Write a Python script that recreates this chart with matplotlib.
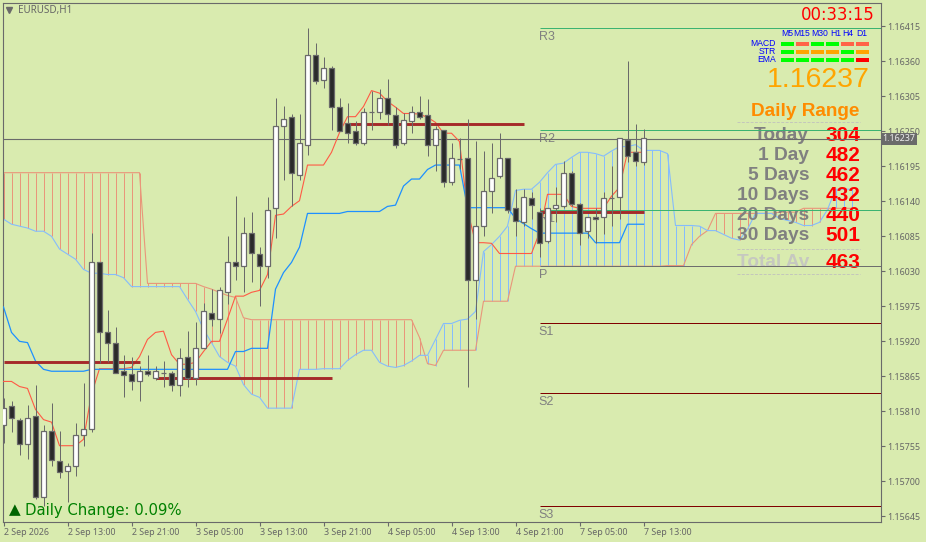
# EURUSD H1 chart with ichimoku, pivots and the daily range panel

import matplotlib
matplotlib.use("Agg")
import matplotlib.pyplot as plt
import numpy as np
from matplotlib.patches import Rectangle

# candles, in points (price * 100000)
opens = [115789, 115818, 115797, 115758, 115802, 115676, 115779, 115732, 115716, 115724, 115773, 115783, 116044, 115934, 115918, 115873, 115868, 115857, 115874, 115862, 115870, 115870, 115851, 115896, 115862, 115910, 115965, 115955, 115997, 116044, 116039, 116090, 116057, 116038, 116129, 116258, 116272, 116182, 116229, 116370, 116330, 116349, 116288, 116263, 116250, 116231, 116280, 116280, 116303, 116275, 116231, 116266, 116281, 116275, 116228, 116252, 116171, 116206, 116208, 116017, 116102, 116156, 116179, 116208, 116129, 116107, 116145, 116124, 116077, 116130, 116132, 116185, 116135, 116093, 116116, 116116, 116145, 116146, 116237, 116217, 116201]
highs = [115831, 115826, 115799, 115820, 115851, 115789, 115823, 115779, 115729, 115791, 115855, 116091, 116044, 115970, 115942, 115899, 115896, 115881, 115899, 115881, 115889, 115873, 115909, 115936, 115950, 115980, 116003, 116005, 116085, 116148, 116116, 116124, 116069, 116146, 116303, 116289, 116277, 116277, 116413, 116388, 116366, 116352, 116302, 116294, 116266, 116286, 116314, 116317, 116332, 116288, 116278, 116289, 116305, 116300, 116258, 116252, 116232, 116239, 116269, 116234, 116219, 116232, 116248, 116208, 116159, 116160, 116154, 116130, 116130, 116162, 116203, 116187, 116138, 116116, 116129, 116154, 116195, 116240, 116360, 116261, 116253]
lows = [115761, 115777, 115741, 115735, 115672, 115661, 115724, 115705, 115667, 115709, 115755, 115777, 115886, 115887, 115871, 115832, 115843, 115826, 115865, 115860, 115849, 115842, 115834, 115849, 115851, 115910, 115944, 115933, 115978, 116017, 115997, 116014, 115976, 116020, 116082, 116173, 116132, 116173, 116212, 116325, 116318, 116252, 116250, 116232, 116229, 116228, 116252, 116270, 116260, 116223, 116228, 116247, 116270, 116211, 116187, 116162, 116166, 116190, 115848, 115955, 116085, 116122, 116176, 116121, 116085, 116102, 116113, 116053, 116075, 116107, 116130, 116132, 116072, 116082, 116075, 116088, 116102, 116113, 116201, 116195, 116197]
closes = [115816, 115799, 115758, 115800, 115676, 115779, 115733, 115714, 115724, 115773, 115783, 116044, 115934, 115918, 115871, 115867, 115857, 115873, 115868, 115874, 115870, 115851, 115894, 115862, 115910, 115967, 115955, 116000, 116045, 116039, 116090, 116059, 116038, 116126, 116258, 116269, 116184, 116231, 116370, 116329, 116349, 116288, 116250, 116247, 116232, 116280, 116280, 116302, 116277, 116229, 116267, 116281, 116273, 116228, 116253, 116171, 116208, 116206, 116017, 116102, 116156, 116177, 116208, 116126, 116109, 116146, 116134, 116075, 116130, 116134, 116184, 116135, 116091, 116116, 116113, 116145, 116145, 116239, 116211, 116203, 116239]

# ichimoku, also in points
tenkan = [115857, 115857, 115849, 115846, 115813, 115797, 115793, 115756, 115756, 115756, 115766, 115837, 115877, 115877, 115877, 115877, 115879, 115896, 115923, 115934, 115936, 115899, 115884, 115884, 115887, 115904, 115920, 115920, 115955, 115991, 115991, 115997, 116000, 116025, 116118, 116120, 116132, 116141, 116197, 116197, 116197, 116217, 116248, 116273, 116273, 116289, 116314, 116310, 116297, 116288, 116278, 116278, 116277, 116272, 116264, 116247, 116247, 116234, 116126, 116075, 116075, 116074, 116058, 116058, 116058, 116058, 116058, 116091, 116151, 116151, 116151, 116132, 116129, 116129, 116129, 116129, 116148, 116162, 116217, 116217, 116217]
kijun = [115974, 115934, 115920, 115918, 115889, 115876, 115873, 115873, 115873, 115873, 115873, 115876, 115876, 115876, 115876, 115876, 115876, 115876, 115876, 115876, 115876, 115876, 115876, 115876, 115876, 115876, 115876, 115876, 115876, 115904, 115904, 115909, 115909, 115909, 116002, 116028, 116044, 116068, 116121, 116121, 116121, 116121, 116121, 116124, 116124, 116124, 116124, 116124, 116132, 116134, 116164, 116175, 116175, 116190, 116197, 116197, 116197, 116197, 116130, 116130, 116130, 116130, 116130, 116130, 116113, 116105, 116097, 116090, 116090, 116090, 116090, 116090, 116090, 116090, 116075, 116075, 116075, 116075, 116104, 116104, 116104]
span_a = [116185, 116185, 116185, 116185, 116185, 116185, 116185, 116185, 116185, 116185, 116185, 116185, 116185, 116185, 116185, 116185, 116185, 116185, 116011, 116011, 116011, 116011, 116011, 116011, 116011, 116006, 116002, 115997, 115992, 115989, 115957, 115954, 115954, 115954, 115954, 115954, 115954, 115954, 115954, 115954, 115954, 115954, 115954, 115954, 115954, 115954, 115954, 115954, 115954, 115954, 115954, 115954, 115926, 115885, 115882, 115906, 115906, 115906, 115906, 115906, 115983, 115983, 115983, 115983, 116038, 116038, 116038, 116038, 116038, 116038, 116038, 116038, 116038, 116038, 116038, 116038, 116038, 116038, 116038, 116038, 116038, 116038, 116038, 116039, 116039, 116039, 116072, 116085, 116094, 116121, 116121, 116121, 116121, 116121, 116121, 116121, 116121, 116123, 116123, 116123, 116129, 116129, 116129, 116129, 116129, 116129, 116129]
span_b = [116112, 116104, 116101, 116098, 116093, 116093, 116085, 116065, 116057, 116049, 116033, 116027, 116027, 116025, 116025, 116020, 116006, 116006, 116006, 116006, 116006, 116006, 116006, 115986, 115967, 115939, 115918, 115896, 115887, 115881, 115852, 115837, 115832, 115815, 115815, 115815, 115815, 115876, 115876, 115876, 115877, 115877, 115877, 115890, 115899, 115906, 115906, 115887, 115881, 115879, 115882, 115889, 115898, 115898, 115923, 115948, 115948, 115953, 115955, 115967, 116061, 116072, 116085, 116101, 116157, 116159, 116159, 116170, 116185, 116198, 116200, 116209, 116217, 116217, 116215, 116211, 116219, 116226, 116226, 116229, 116220, 116220, 116220, 116215, 116102, 116102, 116102, 116101, 116094, 116094, 116088, 116082, 116079, 116096, 116121, 116121, 116121, 116113, 116110, 116107, 116102, 116102, 116107, 116127, 116159, 116159, 116159]

# thick session levels: first bar, last bar, points
level_starts = [0, 19, 43, 67]
level_ends = [17, 41, 65, 80]
level_values = [115887, 115863, 116262, 116124]

pivot_names = ["R3", "R2", "R1", "P", "S1", "S2", "S3"]
pivot_values = [116413, 116252, 116127, 116039, 115949, 115839, 115661]
pivot_colors = ["#3CB371", "#3CB371", "#3CB371", "#6E6E6E", "#800000", "#800000", "#800000"]

bid_value = 116238
bid_label = "1.16237"

price_ticks = [116415, 116360, 116305, 116250, 116195, 116140, 116085, 116030, 115975, 115920, 115865, 115810, 115755, 115700, 115645]
date_ticks = [0, 8, 16, 24, 32, 40, 48, 56, 64, 72, 80]
date_labels = ["2 Sep 2026", "2 Sep 13:00", "2 Sep 21:00", "3 Sep 05:00", "3 Sep 13:00", "3 Sep 21:00", "4 Sep 05:00", "4 Sep 13:00", "4 Sep 21:00", "7 Sep 05:00", "7 Sep 13:00"]

frames = ["M5", "M15", "M30", "H1", "H4", "D1"]
signal_names = ["MACD", "STR", "EMA"]
macd_colors = ["lime", "tomato", "lime", "lime", "tomato", "tomato"]
str_colors = ["lime", "orange", "orange", "orange", "lime", "orange"]
ema_colors = ["lime", "lime", "lime", "lime", "lime", "red"]

range_names = ["Today", "1 Day", "5 Days", "10 Days", "20 Days", "30 Days"]
range_values = [304, 482, 462, 432, 440, 501]
range_average = 463

BG = "#D9EBAF"
GRAY = "#6A6A6A"
W, H = 926, 542


def pts(values):
    return np.array(values) / 1e5


def px(x, y):
    return x / W, 1 - y / H


def label(ax, x, y, s, **kw):
    # text placed by pixel, kept inside the axes so pivot lines can cross it
    fx, fy = px(x, y)
    kw.setdefault("family", "Liberation Sans")
    kw.setdefault("va", "center")
    return ax.text(fx, fy, s, transform=fig.transFigure, clip_on=False, **kw)


def dashed(ax, y):
    ax.plot([737 / W, 860 / W], [1 - y / H, 1 - y / H], transform=fig.transFigure, color="#C4C6BC",
            lw=0.7, ls=(0, (3, 1.5)), clip_on=False, zorder=2)


fig = plt.figure(figsize=(W / 100, H / 100), dpi=100, facecolor=BG)
ax = fig.add_axes([2.5 / W, 1 - 521.5 / H, 878 / W, 519 / H], facecolor=BG)
ax.set_xlim(-0.125, 109.625)
ax.set_ylim(1.156369, 1.164524)

for s in ax.spines.values():
    s.set_color(GRAY)
    s.set_linewidth(0.8)

# cloud hatching, one stroke per bar, then the two spans
a = pts(span_a)
b = pts(span_b)
cloud_x = np.arange(len(a))
salmon = "#E9967A"
sky = "#85BCFC"
hatch_colors = [salmon if a[i] >= b[i] else sky for i in cloud_x]
ax.vlines(cloud_x, np.minimum(a, b), np.maximum(a, b), colors=hatch_colors, lw=0.72, zorder=1, snap=True)
ax.plot(cloud_x, a, color=salmon, lw=0.8, zorder=1.2)
ax.plot(cloud_x, b, color=sky, lw=0.8, zorder=1.2)

# pivots and bid line
xmax = ax.get_xlim()[1]
for name, value, color in zip(pivot_names, pts(pivot_values), pivot_colors):
    ax.hlines(value, 67, xmax, colors=color, lw=0.72, zorder=3, snap=True)
    ax.annotate(name, (67, value), xytext=(-0.5, -2.2), textcoords="offset points", va="top", ha="left",
                color="#808080", fontsize=9, family="Liberation Sans", zorder=3)
ax.axhline(bid_value / 1e5, color=GRAY, lw=0.8, zorder=3)

ax.plot(np.arange(len(tenkan)), pts(tenkan), color="#FF5A45", lw=0.8, zorder=3.2)
ax.plot(np.arange(len(kijun)), pts(kijun), color="#1E90FF", lw=0.9, zorder=3.2)

for start, end, value in zip(level_starts, level_ends, pts(level_values)):
    ax.hlines(value, start, end, colors="#A52A2A", lw=2.1, zorder=4)

# candles
o = pts(opens)
c = pts(closes)
x = np.arange(len(o))
body_colors = ["white" if c[i] >= o[i] else "#2A2A2A" for i in x]
ax.vlines(x, pts(lows), pts(highs), colors=GRAY, lw=0.72, zorder=5, snap=True)
ax.bar(x, np.abs(c - o), bottom=np.minimum(o, c), width=0.56, color=body_colors,
       edgecolor=GRAY, linewidth=0.9, zorder=6)

# axes ticks
ax.yaxis.tick_right()
ax.set_yticks(pts(price_ticks))
ax.set_yticklabels(["%.5f" % v for v in pts(price_ticks)])
ax.set_xticks(date_ticks)
ax.set_xticklabels(date_labels, ha="left")
ax.tick_params(axis="y", length=3, width=0.8, color=GRAY, labelcolor="#666666", labelsize=6.4, pad=2,
               labelfontfamily="Noto Sans")
ax.tick_params(axis="x", length=3, width=0.8, color=GRAY, labelcolor="#666666", labelsize=6.4, pad=2,
               labelfontfamily="Noto Sans")

ax.text(1.0025, bid_value / 1e5, bid_label, transform=ax.get_yaxis_transform(), color="#EDEDED", fontsize=6.4,
        family="Noto Sans", va="center", ha="left", clip_on=False, zorder=8,
        bbox=dict(facecolor="#6A6A6A", edgecolor="none", pad=0.9))

# title
fx, fy = px(9, 10)
ax.plot([fx], [fy], marker="v", ms=4, color=GRAY, transform=fig.transFigure, clip_on=False)
label(ax, 18, 10, "EURUSD,H1", color="#666666", fontsize=7.1, family="Noto Sans")

# clock and signal table
label(ax, 875, 15, "00:33:15", color="red", fontsize=11.9, ha="right", family="DejaVu Sans")
frame_x = [787, 802, 820, 836, 848, 862]
for fr, fr_x in zip(frames, frame_x):
    label(ax, fr_x, 33, fr, color="#0000FF", fontsize=6.2, ha="center")

row_y = [43.7, 52, 59.8]
bar_left = [780.7, 796, 811, 826, 840.7, 855.7]
rows = [macd_colors, str_colors, ema_colors]
for name, y, colors in zip(signal_names, row_y, rows):
    label(ax, 775.6, y, name, color="#0000FF", fontsize=6.2, ha="right")
    for left, color in zip(bar_left, colors):
        fx, fy = px(left, y + 2)
        fig.add_artist(Rectangle((fx, fy), 13.3 / W, 4 / H, transform=fig.transFigure, color=color, lw=0))

label(ax, 870, 80.5, "1.16237", color="orange", fontsize=20.5, ha="right")
label(ax, 859, 111, "Daily Range", color="darkorange", fontsize=13.7, fontweight="bold", ha="right")
dashed(ax, 121.5)

# daily range panel
row_center = [135.5, 155.5, 175.5, 195.5, 215.5, 235.5]
for name, value, y in zip(range_names, range_values, row_center):
    label(ax, 809, y, name, color="#808080", fontsize=13.8, fontweight="bold", ha="right", zorder=2)
    label(ax, 860, y, str(value), color="red", fontsize=15, fontweight="bold", ha="right", zorder=2)
dashed(ax, 248.5)
label(ax, 809, 262.5, "Total Av", color="#C6C8C0", fontsize=13.7, fontweight="bold", ha="right", zorder=2)
label(ax, 860, 262.5, str(range_average), color="red", fontsize=15, fontweight="bold", ha="right", zorder=2)
dashed(ax, 273.5)

# daily change
label(ax, 9, 509.5, "\u25B2", color="#006400", fontsize=11, family="DejaVu Sans")
label(ax, 25, 510.5, "Daily Change: 0.09%", color="#008000", fontsize=10.7, family="DejaVu Sans")

fig.savefig("out.png", dpi=100, facecolor=BG)
